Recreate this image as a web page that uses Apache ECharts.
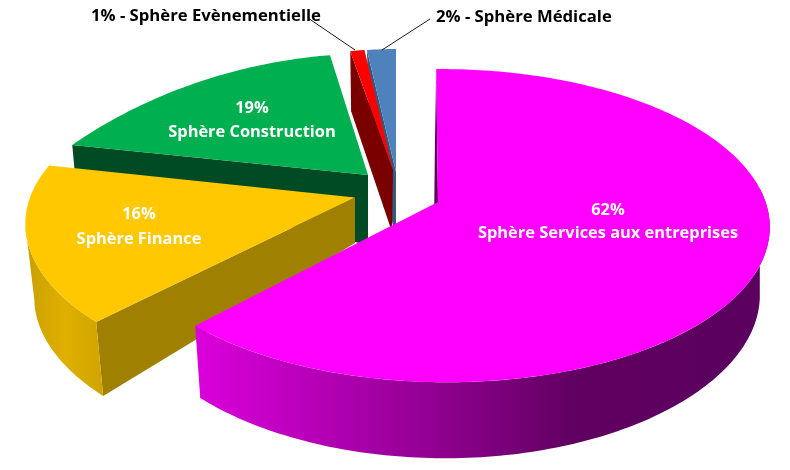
<!DOCTYPE html>
<html><head><meta charset="utf-8">
<style>html,body{margin:0;padding:0;background:#fff}#c{width:790px;height:470px}</style>
<script src="https://cdn.jsdelivr.net/npm/echarts@6/dist/echarts.min.js"></script>
</head><body><div id="c"></div>
<script>
// Data, clockwise from 12 o'clock
const names = ["Sphère Services aux entreprises","Sphère Finance","Sphère Construction","Sphère Evènementielle","Sphère Médicale"];
const shares = [62,16,19,1,2];
const faceColors = ["#FF00FF","#FFC800","#00B050","#FF0000","#4F81BD"];
const cutColors = ["#5E005E","#A08000","#004A24","#7A0000","#38597A"];
const drawOrder = [2,4,3,1,0];

// Projection of each exploded slice (Excel-like 3D perspective)
const views = [
 {ax:438,ay:202,rx:322,ry:153,p:.151,q:.017,kx:2.1,ky:0,s:.974,sx:-1.3,d:76,dc:8,lax:434,lay:230,wall:85,wallLow:100},
 {ax:355,ay:197.5,rx:323,ry:150.6,p:.2,q:0,kx:0,ky:5.1,s:.973,sx:0,d:74,dc:0,lax:355,lay:243,wall:258,wallLow:258},
 {ax:368,ay:175,rx:340,ry:205.6,p:.69,q:0,kx:0,ky:-4.6,s:.99,sx:0,d:32,dc:0,lax:368,lay:245},
 {ax:393,ay:170,rx:228,ry:121,p:0,q:0,kx:0,ky:0,s:.98,sx:0,d:60,dc:0,lax:392,lay:232},
 {ax:396,ay:172,rx:232,ry:123,p:0,q:0,kx:0,ky:0,s:.93,sx:0,d:60,dc:0,lax:396,lay:240}
];
const labelSpots = [
 {x:608,y:210,y2:233,c:"#fff"},{x:139,y:214,y2:239,c:"#fff"},{x:252,y:108,y2:132,c:"#fff"},
 {x:91,y:16,c:"#000",align:"left",line:[[308,18],[355,50]]},{x:436,y:17,c:"#000",align:"left",line:[[430,19],[382,50]]}
];
const wallStops = [
 {x0:194,x1:771,stops:[[0,"#DC00DC"],[.2,"#B800B8"],[.5,"#800080"],[.66,"#600060"],[1,"#5A005E"]]},
 {x0:25,x1:105,stops:[[0,"#C8A000"],[.5,"#E0B000"],[1,"#CFA300"]]}
];

const total = shares.reduce((a,b)=>a+b,0);
const starts = []; let acc = 0;
shares.forEach(v=>{starts.push(acc/total*360); acc+=v;});
const rad = d=>d*Math.PI/180;
function rim(v,deg){
  const u=Math.sin(rad(deg)), w=-Math.cos(rad(deg)), f=1/(1-v.p*w-v.q*u);
  return [(v.rx*u+v.kx*w)*f,(v.ry*w+v.ky*u)*f];
}
const upperRing=(v,deg)=>{const o=rim(v,deg);return [v.ax+o[0],v.ay+o[1]];};
const lowerRing=(v,deg)=>{const o=rim(v,deg),u=Math.sin(rad(deg));return [v.ax+o[0]*v.s+v.sx,v.ay+o[1]+v.d-v.dc*u*u];};
function arc(fn,v,a,b){const n=Math.max(2,Math.ceil(Math.abs(b-a)));const r=[];for(let i=0;i<=n;i++)r.push(fn(v,a+(b-a)*i/n));return r;}

function renderItem(params,api){
  const i=api.value(0), v=views[i], a=starts[i], b=a+shares[i]/total*360;
  const kids=[];
  // cut face on the starting edge
  kids.push({type:"polygon",shape:{points:[upperRing(v,a),[v.ax,v.ay],[v.lax,v.lay],lowerRing(v,a)]},style:{fill:cutColors[i]}});
  // outer wall
  if(v.wall!==undefined){
    const edge=i===0?b:a, g=wallStops[i];
    const pts=arc(upperRing,v,edge,v.wall).concat(arc(lowerRing,v,v.wallLow,edge));
    kids.push({type:"polygon",shape:{points:pts},
      style:{fill:new echarts.graphic.LinearGradient(g.x0,0,g.x1,0,g.stops.map(s=>({offset:s[0],color:s[1]})),true)}});
  }
  // top face
  kids.push({type:"polygon",shape:{points:[[v.ax,v.ay]].concat(arc(upperRing,v,a,b))},style:{fill:faceColors[i]}});
  // labels
  const L=labelSpots[i];
  if(L.align){
    const font='bold 16.7px "Open Sans", sans-serif';
    kids.push({type:"polyline",z2:50,shape:{points:L.line},style:{stroke:"#1a1a1a",lineWidth:1,fill:null}});
    kids.push({type:"text",z2:60,style:{text:shares[i]+"% - "+names[i],x:L.x,y:L.y,align:"left",verticalAlign:"middle",font:font,fill:L.c}});
  }else{
    const font='bold 16.4px "Open Sans", sans-serif';
    kids.push({type:"text",z2:60,style:{text:shares[i]+"%",x:L.x,y:L.y,align:"center",verticalAlign:"middle",font:font,fill:L.c}});
    kids.push({type:"text",z2:60,style:{text:names[i],x:L.x,y:L.y2,align:"center",verticalAlign:"middle",font:font,fill:L.c}});
  }
  return {type:"group",children:kids};
}

const chart=echarts.init(document.getElementById("c"));
chart.setOption({
  animation:false,
  backgroundColor:"#fff",
  series:[{type:"custom",coordinateSystem:"none",renderItem:renderItem,
    data:drawOrder.map(i=>[i,shares[i]])}]
});
</script></body></html>
